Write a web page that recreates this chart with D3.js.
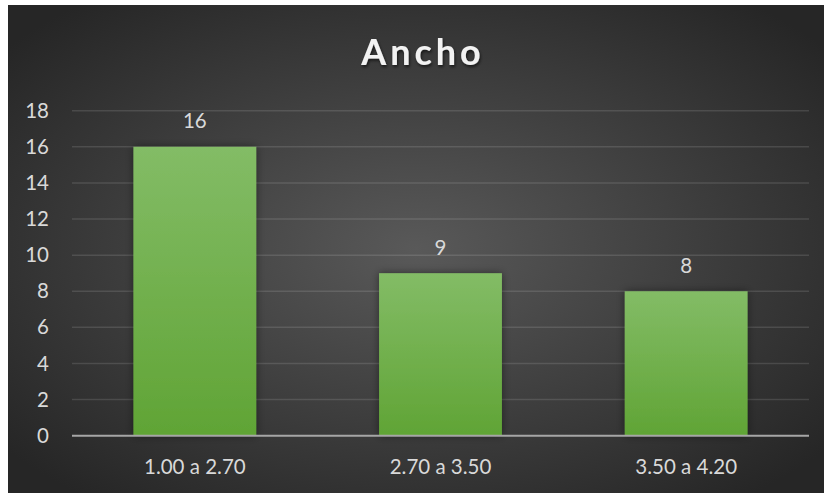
<!DOCTYPE html>
<html>
<head>
<meta charset="utf-8">
<script src="https://cdn.jsdelivr.net/npm/d3@7"></script>
<style>
  html, body { margin: 0; padding: 0; background: #ffffff; }
  svg { display: block; }
  text { font-family: Lato, "Open Sans", sans-serif; }
</style>
</head>
<body>
<svg id="chart"></svg>
<script>
const categories = ["1.00 a 2.70", "2.70 a 3.50", "3.50 a 4.20"];
const counts = [16, 9, 8];
const yTicks = [0, 2, 4, 6, 8, 10, 12, 14, 16, 18];
const title = "Ancho";

const width = 824;
const height = 495;

const svg = d3.select("#chart")
              .attr("width", width)
              .attr("height", height);

const defs = svg.append("defs");

const bg = defs.append("radialGradient")
               .attr("id", "bg")
               .attr("cx", "50%").attr("cy", "50%").attr("r", "65%");
bg.append("stop").attr("offset", "0%").attr("stop-color", "#595959");
bg.append("stop").attr("offset", "100%").attr("stop-color", "#262626");

const barGrad = defs.append("linearGradient")
                    .attr("id", "barGrad")
                    .attr("x1", 0).attr("y1", 0).attr("x2", 0).attr("y2", 1);
barGrad.append("stop").attr("offset", "0%").attr("stop-color", "#83bc66");
barGrad.append("stop").attr("offset", "100%").attr("stop-color", "#60a435");

const shadow = defs.append("filter")
                   .attr("id", "shadow")
                   .attr("x", "-20%").attr("y", "-20%")
                   .attr("width", "140%").attr("height", "140%");
shadow.append("feDropShadow")
      .attr("dx", 0).attr("dy", 0)
      .attr("stdDeviation", 4)
      .attr("flood-color", "#000")
      .attr("flood-opacity", 0.45);

const titleShadow = defs.append("filter").attr("id", "titleShadow");
titleShadow.append("feDropShadow")
           .attr("dx", 1).attr("dy", 2)
           .attr("stdDeviation", 1.5)
           .attr("flood-color", "#000")
           .attr("flood-opacity", 0.6);

// chart area
svg.append("rect")
   .attr("x", 8).attr("y", 5)
   .attr("width", width - 8).attr("height", 488)
   .attr("fill", "url(#bg)");

const plotLeft = 72, plotRight = 809, plotTop = 110.7, plotBottom = 435.7;

const x = d3.scaleBand()
            .domain(categories)
            .range([plotLeft, plotRight])
            .paddingInner(0.5)
            .paddingOuter(0.25);

const y = d3.scaleLinear()
            .domain([0, 18])
            .range([plotBottom, plotTop]);

// gridlines
svg.append("g")
   .selectAll("line")
   .data(yTicks.filter(t => t > 0))
   .enter()
   .append("line")
   .attr("x1", plotLeft).attr("x2", plotRight)
   .attr("y1", d => y(d)).attr("y2", d => y(d))
   .attr("stroke", "#ffffff")
   .attr("stroke-opacity", 0.12)
   .attr("stroke-width", 1.5);

// y axis labels
const yAxis = d3.axisLeft(y).tickValues(yTicks).tickSize(0).tickPadding(0);
svg.append("g")
   .attr("transform", "translate(49,0)")
   .call(yAxis)
   .call(g => g.select(".domain").remove())
   .call(g => g.selectAll("text")
               .attr("fill", "#d9d9d9")
               .attr("font-size", 20.5)
               .attr("font-family", "Lato, sans-serif"));

// bars
svg.append("g")
   .selectAll("rect")
   .data(categories)
   .enter()
   .append("rect")
   .attr("x", d => x(d))
   .attr("y", (d, i) => y(counts[i]))
   .attr("width", x.bandwidth())
   .attr("height", (d, i) => y(0) - y(counts[i]))
   .attr("fill", "url(#barGrad)")
   .attr("filter", "url(#shadow)");

// baseline
svg.append("line")
   .attr("x1", plotLeft).attr("x2", plotRight)
   .attr("y1", y(0)).attr("y2", y(0))
   .attr("stroke", "#a6a6a6")
   .attr("stroke-width", 2);

// value labels
svg.append("g")
   .selectAll("text")
   .data(categories)
   .enter()
   .append("text")
   .attr("x", d => x(d) + x.bandwidth() / 2)
   .attr("y", (d, i) => y(counts[i]) - 18.5)
   .attr("text-anchor", "middle")
   .attr("fill", "#d9d9d9")
   .attr("font-size", 20.5)
   .text((d, i) => counts[i]);

// x axis labels
const xAxis = d3.axisBottom(x).tickSize(0).tickPadding(0);
svg.append("g")
   .attr("transform", `translate(0,${plotBottom + 24})`)
   .call(xAxis)
   .call(g => g.select(".domain").remove())
   .call(g => g.selectAll("text")
               .attr("fill", "#d9d9d9")
               .attr("font-size", 20.5)
               .attr("font-family", "Lato, sans-serif"));

// title
svg.append("text")
   .attr("x", 423)
   .attr("y", 65)
   .attr("text-anchor", "middle")
   .attr("fill", "#f2f2f2")
   .attr("font-size", 36)
   .attr("font-weight", "bold")
   .attr("letter-spacing", 4)
   .attr("filter", "url(#titleShadow)")
   .text(title);
</script>
</body>
</html>
